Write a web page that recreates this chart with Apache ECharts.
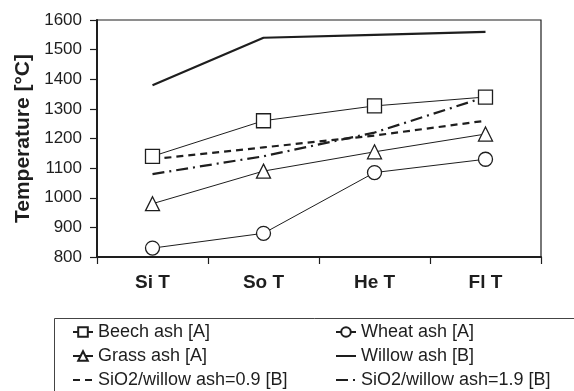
<!DOCTYPE html>
<html><head><meta charset="utf-8">
<script src="https://cdn.jsdelivr.net/npm/echarts@6/dist/echarts.min.js"></script>
<style>html,body{margin:0;padding:0;background:#fff}#c{width:574px;height:391px}</style>
</head><body><div id="c"></div>
<script>
const categories = ['Si T', 'So T', 'He T', 'Fl T'];
const beechAsh = [1140, 1260, 1310, 1340];
const wheatAsh = [830, 880, 1085, 1130];
const grassAsh = [980, 1090, 1155, 1215];
const willowAsh = [1380, 1540, 1550, 1560];
const sio2Willow09 = [1130, 1170, 1210, 1260];
const sio2Willow19 = [1080, 1140, 1220, 1340];
const yTicks = [800, 900, 1000, 1100, 1200, 1300, 1400, 1500, 1600];

const ink = '#1e1e1e';
const font = 'Liberation Sans, Arial, sans-serif';
const chart = echarts.init(document.getElementById('c'), null, {renderer: 'canvas'});

function markerSeries(name, data, symbol, size) {
  return {
    name, type: 'line', data, symbol, symbolSize: size, showSymbol: true,
    lineStyle: {color: ink, width: 1},
    itemStyle: {color: '#fff', borderColor: ink, borderWidth: 1.3},
    z: 3
  };
}
function plainSeries(name, data, width, type) {
  return {
    name, type: 'line', data, symbol: 'none',
    lineStyle: {color: ink, width, type},
    itemStyle: {color: ink}, z: 2
  };
}
const noSym = name => ({name, itemStyle: {opacity: 0}});
const legendText = {color: ink, fontFamily: font, fontSize: 18, lineHeight: 18};

chart.setOption({
  animation: false,
  backgroundColor: '#fff',
  grid: {left: 97, top: 20, right: 33, bottom: 134, show: true, borderColor: ink, borderWidth: 1.2},
  xAxis: {
    type: 'category', data: categories, boundaryGap: true,
    axisLine: {lineStyle: {color: ink, width: 2}},
    axisTick: {show: true, length: 7, lineStyle: {color: ink, width: 1.2}},
    axisLabel: {color: ink, fontFamily: font, fontWeight: 'bold', fontSize: 19, margin: 16}
  },
  yAxis: {
    type: 'value', min: yTicks[0], max: yTicks[yTicks.length - 1], interval: 100,
    name: 'Temperature [°C]', nameLocation: 'middle', nameGap: 60,
    nameTextStyle: {color: ink, fontFamily: font, fontWeight: 'bold', fontSize: 21},
    axisLine: {show: true, lineStyle: {color: ink, width: 2}},
    axisTick: {show: true, length: 7, lineStyle: {color: ink, width: 1.2}},
    axisLabel: {color: ink, fontFamily: font, fontSize: 17, margin: 15, formatter: v => String(v)},
    splitLine: {show: false}
  },
  legend: [
    {
      orient: 'vertical', left: 72, top: 323, padding: 0, itemWidth: 20, itemHeight: 12, itemGap: 6,
      data: ['Beech ash [A]', 'Grass ash [A]', noSym('SiO2/willow ash=0.9 [B]')],
      textStyle: legendText, selectedMode: false
    },
    {
      orient: 'vertical', left: 335, top: 323, padding: 0, itemWidth: 20, itemHeight: 12, itemGap: 6,
      data: ['Wheat ash [A]', noSym('Willow ash [B]'), noSym('SiO2/willow ash=1.9 [B]')],
      textStyle: legendText, selectedMode: false
    }
  ],
  graphic: [{
    type: 'rect', left: 52, top: 316, shape: {width: 540, height: 120},
    style: {fill: 'none', stroke: '#444', lineWidth: 1}, silent: true
  }],
  series: [
    markerSeries('Beech ash [A]', beechAsh, 'rect', 14),
    markerSeries('Wheat ash [A]', wheatAsh, 'circle', 14),
    markerSeries('Grass ash [A]', grassAsh, 'triangle', 14),
    plainSeries('Willow ash [B]', willowAsh, 2.2, 'solid'),
    plainSeries('SiO2/willow ash=0.9 [B]', sio2Willow09, 2.2, [7, 5]),
    plainSeries('SiO2/willow ash=1.9 [B]', sio2Willow19, 2.2, [12, 5, 2, 5])
  ]
});
</script></body></html>
